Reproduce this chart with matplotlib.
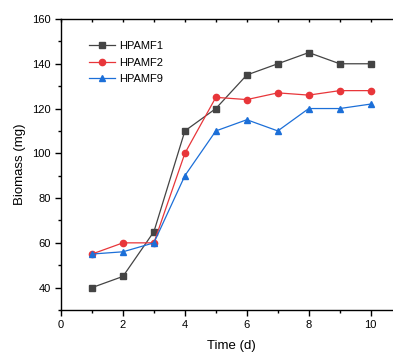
import matplotlib
matplotlib.use("Agg")
import matplotlib.pyplot as plt
from matplotlib.ticker import MultipleLocator

plt.rcParams['font.family'] = ['Liberation Sans', 'DejaVu Sans']

time = [1, 2, 3, 4, 5, 6, 7, 8, 9, 10]
hpamf1 = [40, 45, 65, 110, 120, 135, 140, 145, 140, 140]
hpamf2 = [55, 60, 60, 100, 125, 124, 127, 126, 128, 128]
hpamf9 = [55, 56, 60, 90, 110, 115, 110, 120, 120, 122]
labels = ['HPAMF1', 'HPAMF2', 'HPAMF9']

fig = plt.figure(figsize=(3.93, 3.54), dpi=100)
ax = fig.add_axes([61/393, 44/354, 1 - 61/393, (310 - 19)/354])

ax.plot(time, hpamf1, color='#444444', marker='s', markersize=4.0, lw=0.9, label=labels[0])
ax.plot(time, hpamf2, color='#e8363a', marker='o', markersize=4.5, lw=0.9, label=labels[1])
ax.plot(time, hpamf9, color='#1c6fd8', marker='^', markersize=5.0, lw=0.9, label=labels[2])

ax.set_xlim(0, 10.72)
ax.set_ylim(30, 160)
ax.xaxis.set_major_locator(MultipleLocator(2))
ax.xaxis.set_minor_locator(MultipleLocator(1))
ax.yaxis.set_major_locator(MultipleLocator(20))
ax.yaxis.set_minor_locator(MultipleLocator(10))
ax.set_yticks([40, 60, 80, 100, 120, 140, 160])

ax.tick_params(which='major', direction='out', length=4, width=1, labelsize=8)
ax.tick_params(which='minor', direction='out', length=2.5, width=1)
ax.spines['right'].set_visible(False)
for s in ['left', 'bottom', 'top']:
    ax.spines[s].set_linewidth(1.0)

top = ax.secondary_xaxis('top')
top.xaxis.set_major_locator(MultipleLocator(2))
top.xaxis.set_minor_locator(MultipleLocator(1))
top.tick_params(which='both', direction='in', labeltop=False, length=2.5, width=1)
top.spines['top'].set_visible(False)

ax.set_xlabel('Time (d)', fontsize=9.5)
ax.set_ylabel('Biomass (mg)', fontsize=9.5)
ax.xaxis.set_label_coords(0.512, -0.103)

leg = ax.legend(loc='upper left', bbox_to_anchor=(0.07, 0.94), frameon=False,
                fontsize=8, handlelength=2.4, handletextpad=0.3, labelspacing=0.6,
                borderaxespad=0)

fig.savefig('out.png', dpi=100)
